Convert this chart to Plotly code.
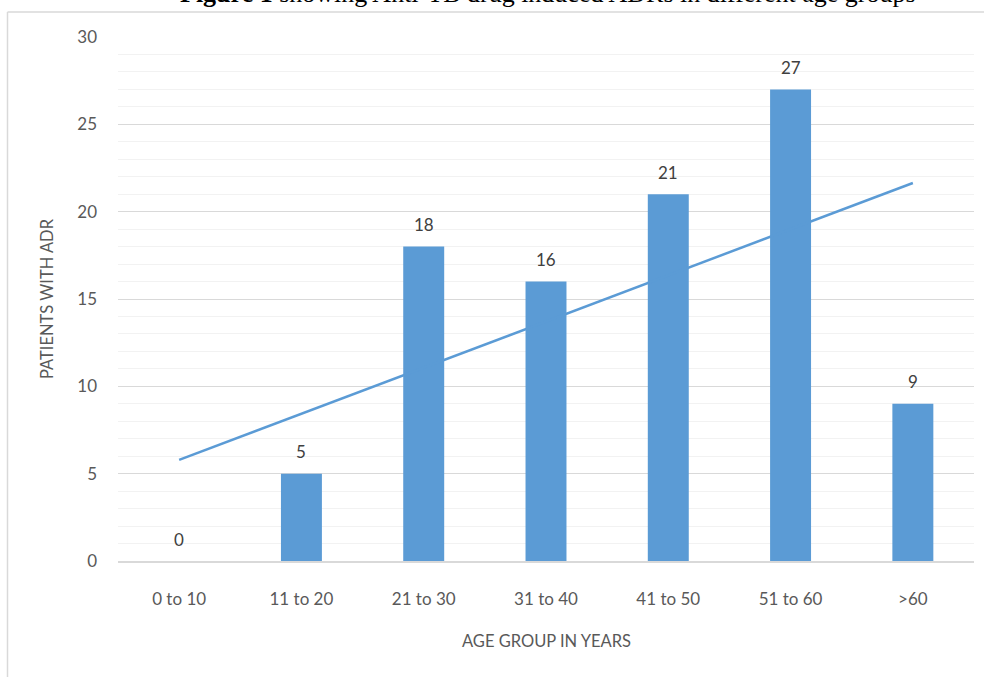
import numpy as np
import plotly.graph_objects as go

categories = ["0 to 10", "11 to 20", "21 to 30", "31 to 40", "41 to 50", "51 to 60", ">60"]
patients = [0, 5, 18, 16, 21, 27, 9]
y_ticks = [0, 5, 10, 15, 20, 25, 30]

title_text = "<b>Figure 1</b> showing Anti-TB drug induced ADRs in different age groups"
x_title = "AGE GROUP IN YEARS"
y_title = "PATIENTS WITH ADR"

BAR = "#5B9BD5"
TXT = "#595959"

# linear trendline (least squares fit, as in the spreadsheet chart)
idx = np.arange(len(categories))
slope, intercept = np.polyfit(idx, patients, 1)
trend = slope * idx + intercept

W, H = 984, 677
ml, mr, mt, mb = 118, 10, 37, 116
pw, ph = W - ml - mr, H - mt - mb

def px_x(p):
    return (p - ml) / pw

def px_y(p):
    return (H - mb - p) / ph

fig = go.Figure()
fig.add_trace(go.Bar(x=categories, y=patients, marker=dict(color=BAR, line=dict(width=0)),
                     width=0.335, hoverinfo="skip"))
fig.add_trace(go.Scatter(x=categories, y=trend, mode="lines",
                         line=dict(color=BAR, width=2.5), hoverinfo="skip"))

annotations = []
for c, v in zip(categories, patients):
    annotations.append(dict(x=c, y=v, text=str(v), showarrow=False, yshift=22,
                            yanchor="middle", font=dict(family="Lato", size=17, color="#404040")))
annotations.append(dict(xref="paper", yref="paper", x=px_x(47), y=0.5, text=y_title,
                        textangle=-90, showarrow=False, xanchor="center", yanchor="middle",
                        font=dict(family="Lato", size=16.5, color=TXT)))
annotations.append(dict(xref="paper", yref="paper", x=0.5, y=px_y(641), text=x_title,
                        showarrow=False, xanchor="center", yanchor="middle",
                        font=dict(family="Lato", size=16.5, color=TXT)))
annotations.append(dict(xref="paper", yref="paper", x=px_x(548), y=px_y(10), text=title_text,
                        showarrow=False, xanchor="center", yanchor="bottom",
                        font=dict(family="Liberation Serif", size=26, color="#000000")))

shapes = [
    dict(type="line", xref="paper", yref="paper", x0=px_x(7.5), x1=px_x(7.5), y0=px_y(12), y1=px_y(690),
         line=dict(color="#D9D9D9", width=1.5)),
    dict(type="line", xref="paper", yref="paper", x0=px_x(7.5), x1=px_x(990), y0=px_y(12), y1=px_y(12),
         line=dict(color="#D9D9D9", width=1.5)),
]

fig.update_layout(
    width=W, height=H,
    margin=dict(l=ml, r=mr, t=mt, b=mb),
    plot_bgcolor="white", paper_bgcolor="white",
    showlegend=False,
    annotations=annotations,
    shapes=shapes,
    xaxis=dict(showgrid=False, showline=True, linecolor="#D9D9D9", linewidth=1.5,
               ticks="", ticklabelstandoff=22,
               tickfont=dict(family="Lato", size=17, color=TXT)),
    yaxis=dict(range=[0, 30], tickvals=y_ticks, showgrid=True, gridcolor="#D9D9D9", gridwidth=1.2,
               zeroline=False, showline=False, ticks="", ticklabelstandoff=20,
               tickfont=dict(family="Lato", size=17, color=TXT),
               minor=dict(dtick=1, showgrid=True, gridcolor="#F2F2F2", gridwidth=1)),
)

fig.write_html("out.html", config={"displayModeBar": False},
               post_script="document.body.style.margin='0';document.body.style.overflow='hidden';")
